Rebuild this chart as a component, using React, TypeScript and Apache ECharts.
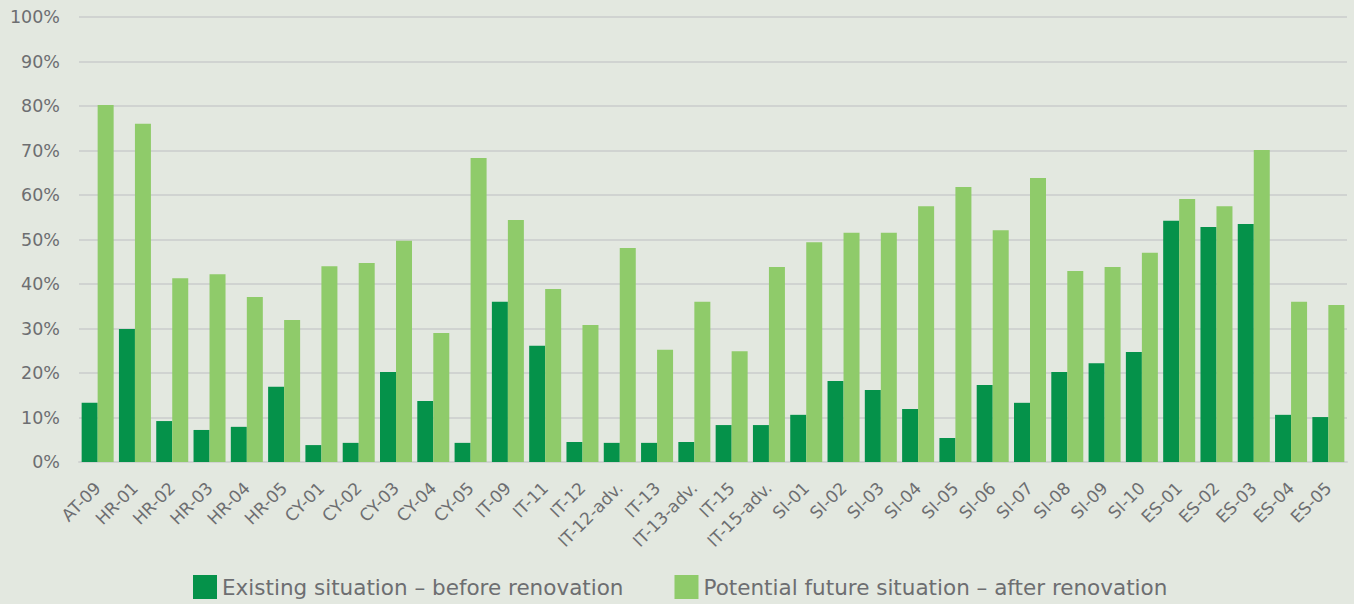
import React, { useEffect, useRef } from "react";
import * as echarts from "echarts";

const categories = [
  "AT-09", "HR-01", "HR-02", "HR-03", "HR-04", "HR-05", "CY-01", "CY-02", "CY-03", "CY-04", "CY-05",
  "IT-09", "IT-11", "IT-12", "IT-12-adv.", "IT-13", "IT-13-adv.", "IT-15", "IT-15-adv.",
  "SI-01", "SI-02", "SI-03", "SI-04", "SI-05", "SI-06", "SI-07", "SI-08", "SI-09", "SI-10",
  "ES-01", "ES-02", "ES-03", "ES-04", "ES-05",
];

const existing = [
  13.3, 29.9, 9.2, 7.2, 7.9, 16.9, 3.8, 4.3, 20.2, 13.7, 4.3,
  36.0, 26.1, 4.5, 4.3, 4.3, 4.5, 8.3, 8.3,
  10.6, 18.2, 16.2, 11.9, 5.4, 17.3, 13.3, 20.2, 22.2, 24.7,
  54.2, 52.8, 53.5, 10.6, 10.1,
];

const potential = [
  80.2, 76.0, 41.3, 42.2, 37.1, 31.9, 44.0, 44.7, 49.7, 29.0, 68.3,
  54.4, 38.9, 30.8, 48.1, 25.2, 36.0, 24.9, 43.8,
  49.4, 51.5, 51.5, 57.5, 61.8, 52.1, 63.8, 42.9, 43.8, 47.0,
  59.1, 57.5, 70.1, 36.0, 35.3,
];

const seriesNames = ["Existing situation – before renovation", "Potential future situation – after renovation"];

export default function App() {
  const ref = useRef<HTMLDivElement>(null);
  useEffect(() => {
    if (!ref.current) return;
    const chart = echarts.init(ref.current, null, { renderer: "svg" });
    const font = "'DejaVu Sans', sans-serif";
    chart.setOption({
      animation: false,
      backgroundColor: "#e3e8e0",
      textStyle: { fontFamily: font },
      grid: { left: 79, right: 7, top: 17, bottom: 142, containLabel: false },
      legend: {
        bottom: 0,
        left: 188,
        itemWidth: 24,
        itemHeight: 24,
        itemGap: 51,
        icon: "rect",
        textStyle: { fontSize: 21.5, color: "#6d6e71", fontFamily: font },
        data: seriesNames,
      },
      xAxis: {
        type: "category",
        data: categories,
        axisTick: { show: false },
        axisLine: { show: true, lineStyle: { color: "#d0d3d1", width: 2 } },
        axisLabel: { rotate: 45, fontSize: 17, color: "#6d6e71", interval: 0, margin: 23 },
      },
      yAxis: {
        type: "value",
        min: 0,
        max: 100,
        interval: 10,
        axisLine: { show: false },
        axisTick: { show: false },
        splitLine: { lineStyle: { color: "#d0d3d1", width: 2 } },
        axisLabel: { formatter: "{value}%", fontSize: 17.5, color: "#6d6e71", margin: 19 },
      },
      series: [
        {
          name: seriesNames[0],
          type: "bar",
          data: existing,
          barWidth: 16,
          barGap: "0%",
          itemStyle: { color: "#05924a" },
        },
        {
          name: seriesNames[1],
          type: "bar",
          data: potential,
          barWidth: 16,
          barGap: "0%",
          itemStyle: { color: "#8fcb6a" },
        },
      ],
    });
    return () => chart.dispose();
  }, []);
  return (
    <div
      ref={ref}
      style={{ position: "fixed", left: 0, top: 0, width: 1354, height: 604 }}
    />
  );
}
